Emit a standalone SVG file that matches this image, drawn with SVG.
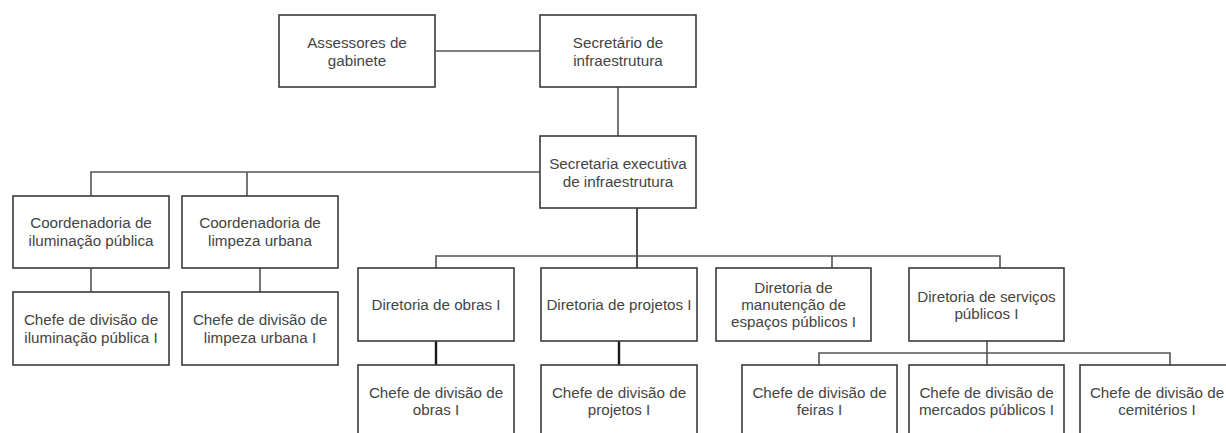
<svg xmlns="http://www.w3.org/2000/svg" width="1226" height="433" viewBox="0 0 1226 433">
<style>
.box{fill:#fff;stroke:#3a3a3a;stroke-width:1.6}
.t{font-family:"Liberation Sans",Arial,sans-serif;font-size:15.2px;fill:#444;text-anchor:middle}
.c{fill:none;stroke:#555;stroke-width:1.6}
.k{fill:none;stroke:#1a1a1a;stroke-width:2.4}
</style>
<rect width="1226" height="433" fill="#fff"/>
<g id="connectors">
<path class="c" d="M436 51H540"/>
<path class="c" d="M618 87V136"/>
<path class="c" d="M540 172H91V196M247 172V196"/>
<path class="c" d="M91 268V292M260 268V292"/>
<path class="k" d="M637 208V268" style="stroke:#222;stroke-width:1.6"/>
<path class="c" d="M436 268V256H1000V268M832 256V268"/>
<path class="k" d="M436 341V365M619 341V365"/>
<path class="c" d="M987 341V365M819 365V353H1170V365"/>
</g>
<g id="assessores"><rect class="box" x="279" y="15" width="156" height="72"/><text class="t" x="357" y="48">Assessores de</text><text class="t" x="357" y="66">gabinete</text></g>
<g id="secretario"><rect class="box" x="540" y="15" width="156" height="72"/><text class="t" x="618" y="48">Secretário de</text><text class="t" x="618" y="66">infraestrutura</text></g>
<g id="secretaria-executiva"><rect class="box" x="540" y="136" width="156" height="72"/><text class="t" x="618" y="169">Secretaria executiva</text><text class="t" x="618" y="187">de infraestrutura</text></g>
<g id="coord-iluminacao"><rect class="box" x="13" y="196" width="156" height="72"/><text class="t" x="91" y="228">Coordenadoria de</text><text class="t" x="91" y="246">iluminação pública</text></g>
<g id="coord-limpeza"><rect class="box" x="182" y="196" width="156" height="72"/><text class="t" x="260" y="228">Coordenadoria de</text><text class="t" x="260" y="246">limpeza urbana</text></g>
<g id="chefe-iluminacao"><rect class="box" x="13" y="292" width="156" height="73"/><text class="t" x="91" y="325">Chefe de divisão de</text><text class="t" x="91" y="343">iluminação pública I</text></g>
<g id="chefe-limpeza"><rect class="box" x="182" y="292" width="156" height="73"/><text class="t" x="260" y="325">Chefe de divisão de</text><text class="t" x="260" y="343">limpeza urbana I</text></g>
<g id="dir-obras"><rect class="box" x="358" y="268" width="156" height="73"/><text class="t" x="436" y="310">Diretoria de obras I</text></g>
<g id="dir-projetos"><rect class="box" x="541" y="268" width="156" height="73"/><text class="t" x="619" y="310">Diretoria de projetos I</text></g>
<g id="dir-manutencao"><rect class="box" x="716" y="268" width="155" height="73"/><text class="t" x="793.5" y="293">Diretoria de</text><text class="t" x="793.5" y="310">manutenção de</text><text class="t" x="793.5" y="327">espaços públicos I</text></g>
<g id="dir-servicos"><rect class="box" x="909" y="268" width="155" height="73"/><text class="t" x="986.5" y="301.5">Diretoria de serviços</text><text class="t" x="986.5" y="318.5">públicos I</text></g>
<g id="chefe-obras"><rect class="box" x="358" y="365" width="156" height="73"/><text class="t" x="436" y="398">Chefe de divisão de</text><text class="t" x="436" y="415">obras I</text></g>
<g id="chefe-projetos"><rect class="box" x="541" y="365" width="156" height="73"/><text class="t" x="619" y="398">Chefe de divisão de</text><text class="t" x="619" y="415">projetos I</text></g>
<g id="chefe-feiras"><rect class="box" x="742" y="365" width="155" height="73"/><text class="t" x="819.5" y="398">Chefe de divisão de</text><text class="t" x="819.5" y="415">feiras I</text></g>
<g id="chefe-mercados"><rect class="box" x="909" y="365" width="155" height="73"/><text class="t" x="986.5" y="398">Chefe de divisão de</text><text class="t" x="986.5" y="415">mercados públicos I</text></g>
<g id="chefe-cemiterios"><rect class="box" x="1080" y="365" width="156" height="73"/><text class="t" x="1157" y="398">Chefe de divisão de</text><text class="t" x="1157" y="415">cemitérios I</text></g>
</svg>
